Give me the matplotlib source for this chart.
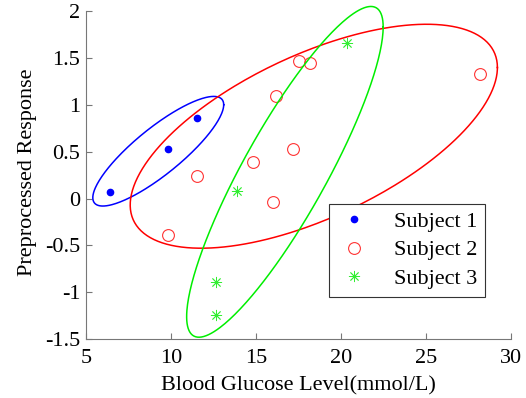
import numpy as np
import matplotlib
matplotlib.use('Agg')
import matplotlib.pyplot as plt

# glucose level (mmol/L) and preprocessed response for each subject
s1_x = [6.4, 9.8, 11.5]
s1_y = [0.07, 0.53, 0.86]
s2_x = [9.8, 11.5, 14.8, 16.0, 16.2, 17.2, 17.5, 18.2, 28.2]
s2_y = [-0.39, 0.24, 0.39, -0.04, 1.09, 0.53, 1.47, 1.45, 1.33]
s3_x = [12.65, 12.65, 13.9, 20.35]
s3_y = [-1.24, -0.89, 0.08, 1.66]

# ellipses: centre x, centre y, half x-extent, half y-extent, phase shift
ell1 = [9.25, 0.505, 3.85, 0.585, 0.56]
ell2 = [18.4, 0.665, 10.8, 1.195, 0.91]
ell3 = [16.7, 0.285, 5.78, 1.765, 0.505]

plt.rcParams['font.family'] = ['Liberation Serif', 'DejaVu Serif']
plt.rcParams['font.size'] = 16

fig = plt.figure(figsize=(5.26, 3.98), dpi=100)
ax = fig.add_axes([0.1635, 0.148, 0.808, 0.824])

ax.plot(s1_x, s1_y, 'o', color='blue', markersize=4.5, linestyle='none', label='Subject 1')
ax.plot(s2_x, s2_y, 'o', markerfacecolor='none', markeredgecolor='#ff3333', markersize=8.5,
        markeredgewidth=0.8, linestyle='none', label='Subject 2')
ax.plot(s3_x, s3_y, marker=(8, 2, 0), color='#33ee33', markersize=8, markeredgewidth=0.6,
        linestyle='none', label='Subject 3')

t = np.linspace(0, 2 * np.pi, 300)
for e, c in [(ell1, 'blue'), (ell2, 'red'), (ell3, '#00ee00')]:
    cx, cy, rx, ry, d = e
    ax.plot(cx + rx * np.cos(t), cy + ry * np.cos(t - d), color=c, linewidth=1.1, clip_on=False)

ax.set_xlim(5, 30)
ax.set_ylim(-1.5, 2)
ax.set_xticks([5, 10, 15, 20, 25, 30])
ax.set_yticks([-1.5, -1, -0.5, 0, 0.5, 1, 1.5, 2])
ax.set_yticklabels(['-1.5', '-1', '-0.5', '0', '0.5', '1', '1.5', '2'])
ax.set_xlabel('Blood Glucose Level(mmol/L)', labelpad=6)
ax.set_ylabel('Preprocessed Response')
ax.yaxis.set_label_coords(-0.115, 0.51)

for side in ['top', 'right']:
    ax.spines[side].set_visible(False)
for side in ['left', 'bottom']:
    ax.spines[side].set_color('#777777')
ax.tick_params(direction='in', length=4, color='#777777', labelsize=16)
ax.tick_params(axis='x', pad=7)
ax.tick_params(axis='y', pad=4)

leg = ax.legend(loc='lower right', bbox_to_anchor=(0.9655, 0.096), fancybox=False,
                edgecolor='#333333', framealpha=1, handletextpad=1.0, borderpad=0.35,
                labelspacing=0.35, handlelength=1.6, fontsize=16)
leg.get_frame().set_linewidth(0.8)

fig.savefig('out.png', dpi=100)
